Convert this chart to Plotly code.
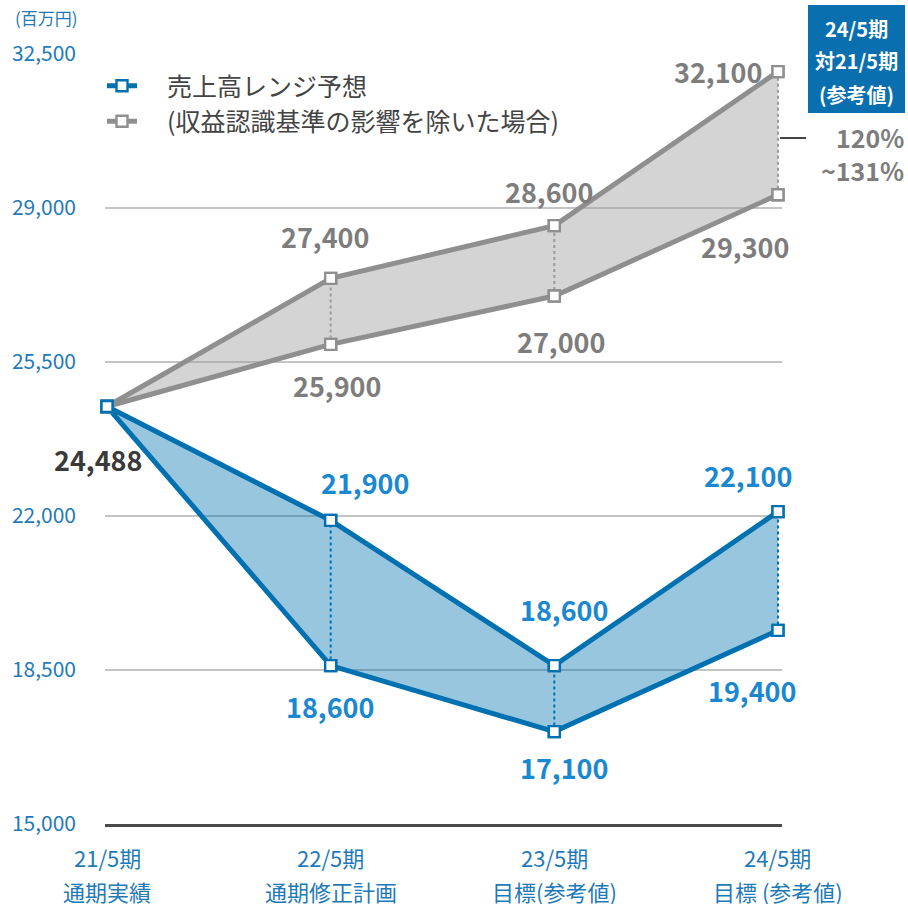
import plotly.graph_objects as go

# ---- data ----
periods = ["21/5期", "22/5期", "23/5期", "24/5期"]
period_notes = ["通期実績", "通期修正計画", "目標(参考値)", "目標 (参考値)"]
x_idx = [0, 1, 2, 3]

sales_high = [24488, 21900, 18600, 22100]
sales_low = [24488, 18600, 17100, 19400]
excl_high = [24488, 27400, 28600, 32100]
excl_low = [24488, 25900, 27000, 29300]

y_ticks = [15000, 18500, 22000, 25500, 29000, 32500]

legend_sales = "売上高レンジ予想"
legend_excl = "(収益認識基準の影響を除いた場合)"
unit_label = "(百万円)"
box_lines = ["24/5期", "対21/5期", "(参考値)"]
ratio_lines = ["120%", "~131%"]

# ---- styles ----
FONT = "Noto Sans CJK JP"
BLUE = "#0071b0"
BLUE_FILL = "rgba(0,112,176,0.40)"
BLUE_TXT = "#1a88d0"
AXIS_BLUE = "#1f7ab8"
GRAY = "#8f8f8f"
GRAY_FILL = "rgba(160,160,160,0.45)"
GRAY_TXT = "#7d7d7d"

L, R, T, B = 105, 126, 54, 80
W, H = 908, 904
PW, PH = W - L - R, H - T - B


def px(xp):
    return (xp - L) / PW


def py(yp):
    return (H - B - yp) / PH


fig = go.Figure()

LW = 5
MS = 11


def mk(col):
    return dict(symbol="square", size=MS, color="white", line=dict(color=col, width=2.4))


# gray band
fig.add_trace(go.Scatter(x=x_idx, y=excl_high, mode="lines+markers",
                         name="\u2003" + legend_excl,
                         line=dict(color=GRAY, width=LW), marker=mk(GRAY),
                         legendrank=2, cliponaxis=False))
fig.add_trace(go.Scatter(x=x_idx, y=excl_low, mode="lines+markers", showlegend=False,
                         fill="tonexty", fillcolor=GRAY_FILL,
                         line=dict(color=GRAY, width=LW), marker=mk(GRAY), cliponaxis=False))
# blue band
fig.add_trace(go.Scatter(x=x_idx, y=sales_high, mode="lines+markers",
                         name="\u2003" + legend_sales,
                         line=dict(color=BLUE, width=LW), marker=mk(BLUE),
                         legendrank=1, cliponaxis=False))
fig.add_trace(go.Scatter(x=x_idx, y=sales_low, mode="lines+markers", showlegend=False,
                         fill="tonexty", fillcolor=BLUE_FILL,
                         line=dict(color=BLUE, width=LW), marker=mk(BLUE), cliponaxis=False))

# dotted connectors
for i in x_idx[1:]:
    fig.add_trace(go.Scatter(x=[i, i], y=[excl_low[i], excl_high[i]], mode="lines",
                             showlegend=False, line=dict(color="#9a9a9a", width=2, dash="dot"),
                             hoverinfo="skip"))
    fig.add_trace(go.Scatter(x=[i, i], y=[sales_low[i], sales_high[i]], mode="lines",
                             showlegend=False, line=dict(color=BLUE, width=2, dash="dot"),
                             hoverinfo="skip"))
# markers on top of connectors
for ys, col in [(excl_high, GRAY), (excl_low, GRAY), (sales_high, BLUE), (sales_low, BLUE)]:
    fig.add_trace(go.Scatter(x=x_idx, y=ys, mode="markers", showlegend=False,
                             marker=mk(col), cliponaxis=False, hoverinfo="skip"))

# ---- value labels ----
LBL = 27
ann = []
ann.append(dict(x=0, y=sales_high[0], text=f"{sales_high[0]:,}", xshift=-9, yshift=-53,
                font=dict(family=FONT, size=LBL, color="#3a3a3a")))
sh_up = [(34, 38), (10, 56), (-30, 36)]
sh_lo = [(-1, -41), (10, -36), (-26, -60)]
gr_up = [(-6, 42), (-5, 34), (-60, 0)]
gr_lo = [(6, -41), (7, -45), (-33, -52)]
for k, i in enumerate(x_idx[1:]):
    ann.append(dict(x=i, y=sales_high[i], text=f"{sales_high[i]:,}", xshift=sh_up[k][0],
                    yshift=sh_up[k][1], font=dict(family=FONT, size=LBL, color=BLUE_TXT)))
    ann.append(dict(x=i, y=sales_low[i], text=f"{sales_low[i]:,}", xshift=sh_lo[k][0],
                    yshift=sh_lo[k][1], font=dict(family=FONT, size=LBL, color=BLUE_TXT)))
    ann.append(dict(x=i, y=excl_high[i], text=f"{excl_high[i]:,}", xshift=gr_up[k][0],
                    yshift=gr_up[k][1], font=dict(family=FONT, size=LBL, color=GRAY_TXT)))
    ann.append(dict(x=i, y=excl_low[i], text=f"{excl_low[i]:,}", xshift=gr_lo[k][0],
                    yshift=gr_lo[k][1], font=dict(family=FONT, size=LBL, color=GRAY_TXT)))
for a in ann:
    a.update(xref="x", yref="y", showarrow=False, xanchor="center", yanchor="middle")
    a["text"] = f"<b>{a['text']}</b>"

# x category labels (two lines)
for i, (p, n) in enumerate(zip(periods, period_notes)):
    ann.append(dict(x=i, y=0, xref="x", yref="paper", text=p, showarrow=False,
                    yanchor="middle", yshift=-33, font=dict(family=FONT, size=22, color=AXIS_BLUE)))
    ann.append(dict(x=i, y=0, xref="x", yref="paper", text=n, showarrow=False,
                    yanchor="middle", yshift=-67, font=dict(family=FONT, size=22, color=AXIS_BLUE)))

# unit label
ann.append(dict(x=px(46), y=py(18), xref="paper", yref="paper", text=unit_label,
                showarrow=False, xanchor="center", yanchor="middle",
                font=dict(family=FONT, size=17, color=AXIS_BLUE)))

# top-right box text
for t, yc in zip(box_lines, [28, 61, 94]):
    ann.append(dict(x=px(856.5), y=py(yc), xref="paper", yref="paper", text=f"<b>{t}</b>",
                    showarrow=False, xanchor="center", yanchor="middle",
                    font=dict(family=FONT, size=20, color="white")))
for t, yc in zip(ratio_lines, [137, 170]):
    ann.append(dict(x=px(906), y=py(yc), xref="paper", yref="paper", text=f"<b>{t}</b>",
                    showarrow=False, xanchor="right", yanchor="middle",
                    font=dict(family=FONT, size=25, color=GRAY_TXT)))

fig.update_layout(
    width=W, height=H,
    margin=dict(l=L, r=R, t=T, b=B, pad=0),
    paper_bgcolor="white", plot_bgcolor="white",
    font=dict(family=FONT),
    showlegend=True,
    legend=dict(x=px(102), y=py(63), xanchor="left", yanchor="top",
                bgcolor="rgba(0,0,0,0)", font=dict(family=FONT, size=25, color="#444444"),
                traceorder="normal", itemwidth=30),
    annotations=ann,
    shapes=[
        dict(type="rect", xref="paper", yref="paper", x0=px(808), x1=px(905),
             y0=py(113), y1=py(5), fillcolor="#0a6fae", line=dict(width=0), layer="below"),
        dict(type="line", xref="paper", yref="paper", x0=px(780), x1=px(806),
             y0=py(138), y1=py(138), line=dict(color="#444444", width=2)),
    ],
)
fig.update_xaxes(range=[-0.009, 3.018], showgrid=False, zeroline=False, showticklabels=False,
                 showline=True, linecolor="#4a4a4a", linewidth=3, ticks="")
fig.update_yaxes(range=[15000, 32500], tickvals=y_ticks, ticktext=[f"{v:,}" for v in y_ticks],
                 showgrid=True, gridcolor="#c4c4c4", gridwidth=2, zeroline=False,
                 tickfont=dict(family=FONT, size=21, color=AXIS_BLUE), ticklabelstandoff=28,
                 showline=False, ticks="")

fig.write_html("out.html", config={"displayModeBar": False},
               post_script="document.body.style.margin='0';document.body.style.overflow='hidden';")
